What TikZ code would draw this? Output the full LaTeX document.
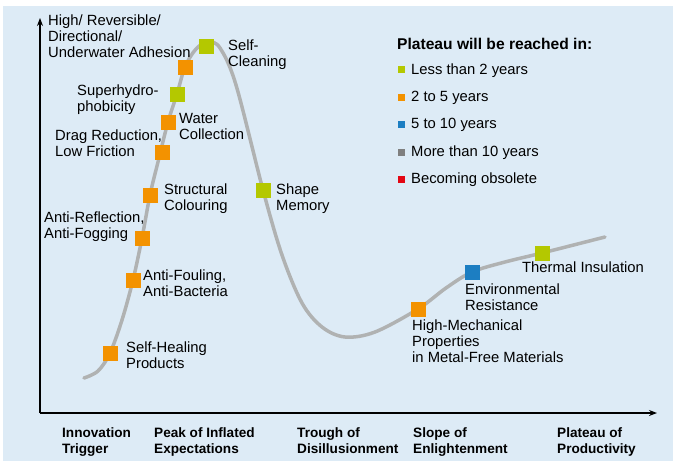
\documentclass[tikz,border=0pt]{standalone}
\usepackage{fontspec}
\setmainfont{Liberation Sans}
\usetikzlibrary{arrows.meta}
\definecolor{bg}{HTML}{DDEBF6}
\definecolor{cgreen}{HTML}{B4C800}
\definecolor{corange}{HTML}{F39200}
\definecolor{cblue}{HTML}{1C7EC2}
\definecolor{cgray}{HTML}{7F7F7F}
\definecolor{cred}{HTML}{E30613}
\definecolor{curve}{HTML}{B0B2B2}
\begin{document}
\begin{tikzpicture}[x=1pt,y=-1pt,
  lbl/.style={anchor=north west,inner sep=0pt,align=left,font=\fontsize{14.8}{16}\selectfont},
  blbl/.style={anchor=north west,inner sep=0pt,align=left,font=\fontsize{13.6}{16}\selectfont\bfseries},
  sq/.style={minimum size=15pt,inner sep=0pt,draw=none},
  lsq/.style={minimum size=7pt,inner sep=0pt,draw=none},
  axis/.style={line width=2pt,-{Stealth[length=8pt,width=6pt]}}]
\useasboundingbox (0,0) rectangle (673,461);
\fill[bg] (3,6) rectangle (673,461);
% axes
\coordinate (o) at (40,413);
\coordinate (ytop) at (40,18);
\coordinate (xend) at (657,413);
\draw[axis] (o) -- (ytop);
\draw[axis] (o) -- (xend);
% curve
\draw[curve,line width=3.5pt,line cap=round] plot[smooth,tension=0.55] coordinates {
 (84,378) (98,371) (110,353) (122,320) (133,280) (142,238) (150,195) (158,162) (168,122) (177,94) (185,67) (196,49) (208,42) (220,48) (236,85) (263,190) (282,255) (302,303) (322,327) (345,337) (375,332) (418,309) (446,288) (472,272) (505,262) (542,253) (605,237)};
% squares
\node[sq,fill=corange] (s1) at (110,353) {};
\node[sq,fill=corange] (s2) at (133,280) {};
\node[sq,fill=corange] (s3) at (142,238) {};
\node[sq,fill=corange] (s4) at (150,195) {};
\node[sq,fill=corange] (s5) at (162,152) {};
\node[sq,fill=corange] (s6) at (168,122) {};
\node[sq,fill=cgreen] (s7) at (177,94) {};
\node[sq,fill=corange] (s8) at (185,67) {};
\node[sq,fill=cgreen] (s9) at (206,46) {};
\node[sq,fill=cgreen] (s10) at (263,190) {};
\node[sq,fill=corange] (s11) at (418,309) {};
\node[sq,fill=cblue] (s12) at (472,272) {};
\node[sq,fill=cgreen] (s13) at (542,253) {};
% labels
\node[lbl] (l0) at (48,15) {High/ Reversible/\\Directional/\\Underwater Adhesion};
\node[lbl] (l9) at (228,40) {Self-\\Cleaning};
\node[lbl] (l7) at (77,85) {Superhydro-\\phobicity};
\node[lbl] (l6) at (179,113) {Water\\Collection};
\node[lbl] (l5) at (55,130) {Drag Reduction,\\Low Friction};
\node[lbl] (l4) at (164,184) {Structural\\Colouring};
\node[lbl] (l10) at (276,184) {Shape\\Memory};
\node[lbl] (l3) at (44,212) {Anti-Reflection,\\Anti-Fogging};
\node[lbl] (l2) at (143,270) {Anti-Fouling,\\Anti-Bacteria};
\node[lbl] (l1) at (126,342) {Self-Healing\\Products};
\node[lbl] (l11) at (412,320) {High-Mechanical\\Properties\\in Metal-Free Materials};
\node[lbl] (l12) at (465,284) {Environmental\\Resistance};
\node[lbl] (l13) at (522,262) {Thermal Insulation};
% phase labels
\node[blbl] (p1) at (62,427) {Innovation\\Trigger};
\node[blbl] (p2) at (154,427) {Peak of Inflated\\Expectations};
\node[blbl] (p3) at (297,427) {Trough of\\Disillusionment};
\node[blbl] (p4) at (413,427) {Slope of\\Enlightenment};
\node[blbl] (p5) at (557,427) {Plateau of\\Productivity};
% legend
\node[blbl,anchor=base west,font=\fontsize{15.6}{16}\selectfont\bfseries] (lt) at (397,49) {Plateau will be reached in:};
\node[lsq,fill=cgreen] (k1) at (401.5,69) {};
\node[lsq,fill=corange] (k2) at (401.5,97) {};
\node[lsq,fill=cblue] (k3) at (401.5,124) {};
\node[lsq,fill=cgray] (k4) at (401.5,152) {};
\node[lsq,fill=cred] (k5) at (401.5,179) {};
\node[lbl,anchor=base west] (t1) at (411,74) {Less than 2 years};
\node[lbl,anchor=base west] (t2) at (411,101.5) {2 to 5 years};
\node[lbl,anchor=base west] (t3) at (411,128.5) {5 to 10 years};
\node[lbl,anchor=base west] (t4) at (411,156) {More than 10 years};
\node[lbl,anchor=base west] (t5) at (411,183) {Becoming obsolete};
\end{tikzpicture}
\end{document}
